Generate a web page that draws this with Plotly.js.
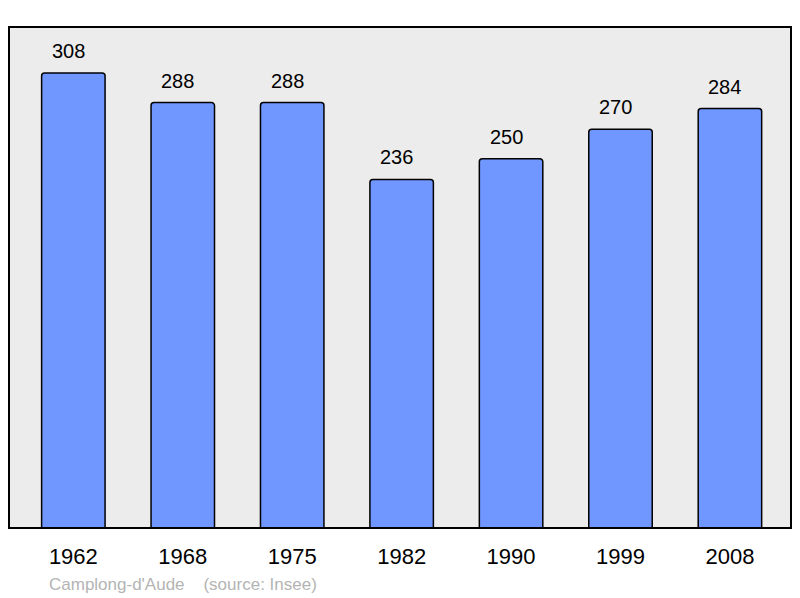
<!DOCTYPE html>
<html>
<head>
<meta charset="utf-8">
<script src="https://cdn.plot.ly/plotly-3.0.1.min.js"></script>
<style>html,body{margin:0;padding:0;background:#fff;}#chart{width:800px;height:598px;}</style>
</head>
<body>
<div id="chart"></div>
<script>
const years = ["1962", "1968", "1975", "1982", "1990", "1999", "2008"];
const population = [308, 288, 288, 236, 250, 270, 284];
const sourceText = "Camplong-d'Aude    (source: Insee)";

const idx = years.map((_, i) => i);

const trace = {
  type: "bar",
  x: idx,
  y: population,
  width: 0.58,
  marker: {color: "#7096ff", line: {color: "#000", width: 1.5}, cornerradius: 3},
  hoverinfo: "skip"
};

const annotations = population.map((v, i) => ({
  x: i, y: v, xref: "x", yref: "y",
  text: String(v), showarrow: false,
  yanchor: "bottom", yshift: 9, xshift: -5,
  font: {family: "Liberation Sans, Arial, sans-serif", size: 20, color: "#000"}
}));
annotations.push({
  xref: "paper", yref: "paper", x: 0.049, y: -0.112,
  xanchor: "left", yanchor: "middle",
  text: sourceText.replace(/ {2,}/g, m => "&nbsp;".repeat(m.length)),
  showarrow: false,
  font: {family: "Liberation Sans, Arial, sans-serif", size: 17, color: "#b4b4b4"}
});

const layout = {
  width: 800, height: 598,
  margin: {l: 9, r: 9, t: 27, b: 70},
  paper_bgcolor: "#fff",
  plot_bgcolor: "#ececec",
  showlegend: false,
  xaxis: {
    range: [-0.588, 6.558],
    tickvals: idx, ticktext: years,
    showgrid: false, zeroline: false, showline: false,
    ticks: "", ticklabelstandoff: 13,
    tickfont: {family: "Liberation Sans, Arial, sans-serif", size: 22, color: "#000"},
    fixedrange: true
  },
  yaxis: {
    range: [0, 339.2],
    showgrid: false, zeroline: false, showline: false,
    showticklabels: false, ticks: "", fixedrange: true
  },
  shapes: [{
    type: "rect", xref: "paper", yref: "paper",
    x0: 0, x1: 1, y0: 0, y1: 1,
    line: {color: "#000", width: 2}, fillcolor: "rgba(0,0,0,0)", layer: "above"
  }],
  annotations: annotations
};

Plotly.newPlot("chart", [trace], layout, {staticPlot: true, displayModeBar: false});
</script>
</body>
</html>
